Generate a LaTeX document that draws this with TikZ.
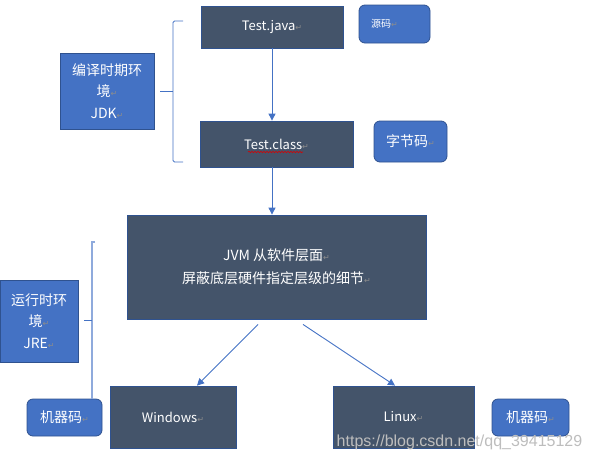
\documentclass[tikz,border=0pt]{standalone}
\usepackage{fontspec}
\setmainfont{Noto Sans CJK SC}
\newfontfamily\symfont{DejaVu Sans}
\newfontfamily\urlfont{Liberation Sans}
\usetikzlibrary{arrows.meta,decorations.pathmorphing}
\definecolor{slate}{HTML}{44546A}
\definecolor{office}{HTML}{4472C4}
\definecolor{officedk}{HTML}{2F528F}
\definecolor{officelt}{HTML}{8FAADC}
\definecolor{markgray}{HTML}{8C8C8C}
\definecolor{wmgray}{HTML}{BDBDBD}
\newcommand\crmark{{\symfont\fontsize{8}{8}\selectfont\color{markgray}↵}}

\begin{document}
\begin{tikzpicture}[x=1pt, y=-1pt,
    every node/.style = {align=center, text=white, inner sep=0pt,
      font=\fontsize{14}{21.5}\selectfont},
    latin/.style = {font=\fontsize{13}{20}\selectfont},
    darkbox/.style = {fill=slate, draw=officedk, line width=0.8pt},
    envbox/.style = {fill=office, draw=officedk, line width=0.8pt},
    tagbox/.style = {envbox, rounded corners=6pt},
    flow/.style = {draw=office, line width=0.9pt,
      -{Triangle[width=7pt,length=7pt]}}]
  \useasboundingbox (0,0) rectangle (591,461);

  % compile time
  \node[darkbox, latin, minimum width=142pt, minimum height=42pt] (java) at (272,27) {Test.java\crmark};
  \node[tagbox, minimum width=71pt, minimum height=38pt, text width=47pt, align=left,
    inner xsep=12pt, font=\fontsize{10}{12}\selectfont] (src) at (394.5,24) {源码\crmark};
  \node[envbox, minimum width=94pt, minimum height=76pt] (jdk) at (107,91) {编译时期环\\境\crmark\\JDK\crmark};
  \node[darkbox, latin, minimum width=153pt, minimum height=46pt] (cls) at (276.5,144) {Test.class\crmark};
  \node[tagbox, minimum width=73pt, minimum height=41pt] (byte) at (410.5,141.5) {字节码\crmark};

  % run time
  \node[darkbox, minimum width=299pt, minimum height=104pt, font=\fontsize{14}{23}\selectfont] (jvm) at (276.5,267)
    {JVM 从软件层面\crmark\\屏蔽底层硬件指定层级的细节\crmark};
  \node[envbox, minimum width=78pt, minimum height=82pt] (jre) at (39,321) {运行时环\\境\crmark\\JRE\crmark};
  \node[tagbox, minimum width=75pt, minimum height=37pt] (codeL) at (64.5,417.5) {机器码\crmark};
  \node[darkbox, latin, minimum width=126pt, minimum height=62pt] (win) at (173,417) {Windows\crmark};
  \node[darkbox, latin, minimum width=141pt, minimum height=62pt] (lin) at (403.5,417) {Linux\crmark};
  \node[tagbox, minimum width=77pt, minimum height=37pt] (codeR) at (530.5,417.5) {机器码\crmark};

  % braces
  \draw[office, line width=0.8pt, rounded corners=1.5pt] (183,21) -- (173,21) -- (173,162) -- (183,162);
  \draw[office, line width=0.8pt] (173,91) -- (160,91);
  \draw[officelt, line width=1.8pt] (95,242) -- (92,242) -- (92,399);
  \draw[office, line width=1pt] (84,320) -- (92,320);

  % spell check mark
  \draw[red!85!black, line width=0.6pt, decorate,
    decoration={snake, amplitude=0.7pt, segment length=3pt}]
    ([shift={(-28.5,8)}]cls.center) -- ([shift={(26.5,8)}]cls.center);

  \draw[flow] (java.south) -- (java.south |- cls.north);
  \draw[flow] (java.south |- cls.south) -- (java.south |- jvm.north);
  \draw[flow] ([shift={(-18.5,5)}]jvm.south) -- ([shift={(24,0)}]win.north);
  \draw[flow] ([shift={(26.5,5)}]jvm.south) -- ([shift={(-8.5,0)}]lin.north);

  \node[text=wmgray, font=\urlfont\fontsize{16}{16}\selectfont] (wm) at (459.5,442) {https://blog.csdn.net/qq\_39415129};
\end{tikzpicture}
\end{document}
